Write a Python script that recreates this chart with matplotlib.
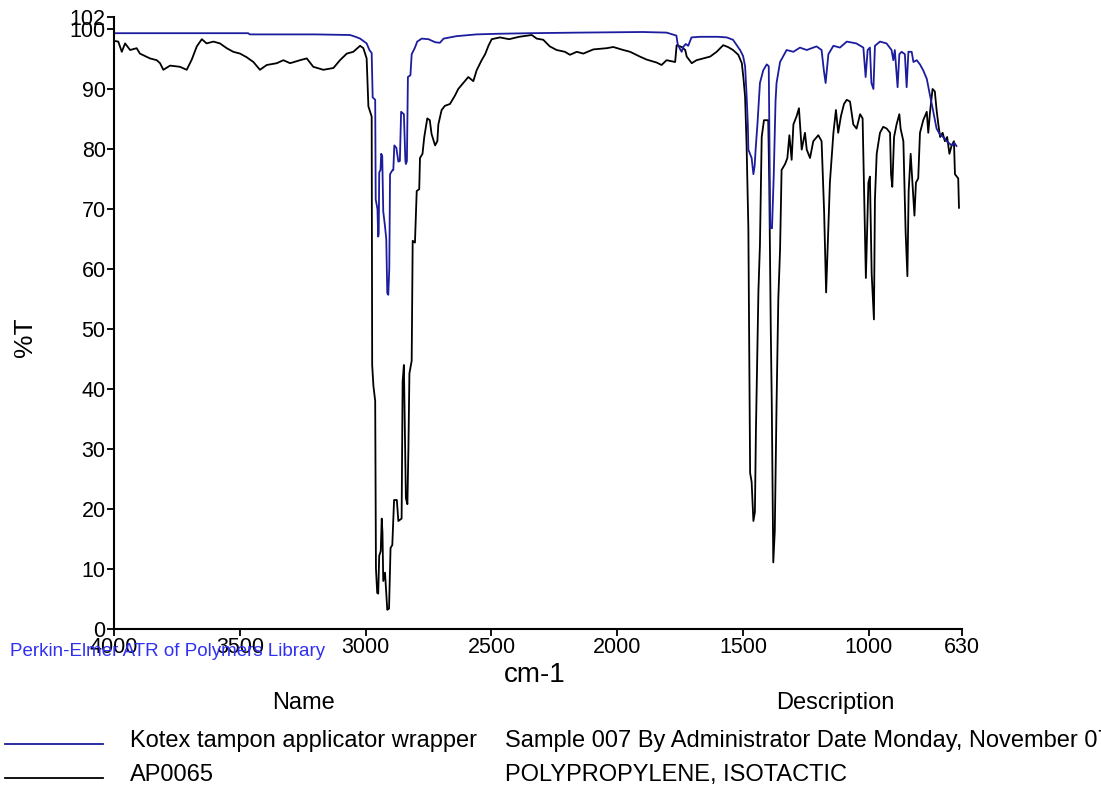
import matplotlib
matplotlib.use("Agg")
import matplotlib.pyplot as plt
from matplotlib.lines import Line2D

plt.rcParams['font.family'] = ['Liberation Sans', 'DejaVu Sans']

# Kotex tampon applicator wrapper (wavenumber cm-1, %T)
kotex_wn = [4000, 3600, 3467, 3460, 3200, 3062, 3040, 3022, 3009, 2996, 2985, 2976,
            2972, 2962, 2960, 2953, 2950, 2948, 2946, 2941, 2938, 2934, 2930, 2923,
            2918, 2914, 2910, 2906, 2903, 2893, 2890, 2886, 2878, 2870, 2864, 2859,
            2848, 2842, 2840, 2836, 2832, 2822, 2817, 2804, 2795, 2777, 2750, 2724,
            2705, 2690, 2640, 2560, 2480, 2350, 2150, 1900, 1804, 1765, 1760, 1750,
            1744, 1738, 1728, 1718, 1705, 1671, 1600, 1565, 1540, 1512, 1500, 1492,
            1486, 1481, 1479, 1466, 1459, 1454, 1450, 1443, 1433, 1420, 1406, 1398,
            1394, 1392, 1385, 1378, 1371, 1367, 1353, 1327, 1300, 1274, 1247, 1208,
            1188, 1179, 1172, 1161, 1141, 1115, 1088, 1050, 1022, 1013, 1005, 996,
            990, 982, 976, 956, 930, 910, 903, 897, 886, 879, 870, 857, 850, 843,
            830, 823, 810, 797, 784, 770, 757, 744, 731, 717, 705, 691, 671, 660, 652]
kotex_t = [99.3, 99.3, 99.3, 99.1, 99.1, 99.0, 98.7, 98.4, 98.0, 97.6, 96.5, 96.0,
           88.6, 88.2, 71.6, 70.0, 65.4, 66.0, 76.1, 76.5, 79.2, 78.8, 69.6, 67.1,
           65.0, 56.0, 55.7, 60.0, 75.8, 76.5, 76.5, 80.6, 80.2, 77.9, 78.0, 86.2,
           85.8, 78.0, 77.5, 78.0, 92.0, 92.3, 95.8, 96.9, 97.9, 98.4, 98.3, 97.8,
           97.7, 98.4, 98.8, 99.1, 99.2, 99.3, 99.4, 99.5, 99.4, 98.9, 97.5, 96.6,
           96.2, 97.0, 97.5, 97.2, 98.6, 98.7, 98.7, 98.6, 98.2, 96.5, 95.5, 93.8,
           88.9, 84.0, 79.9, 78.5, 75.8, 77.2, 80.0, 84.1, 91.0, 93.1, 94.1, 93.8,
           75.0, 66.8, 66.8, 75.8, 88.0, 91.0, 94.5, 96.5, 96.2, 96.9, 96.5, 97.1,
           96.5, 93.1, 91.0, 95.8, 97.2, 96.9, 97.9, 97.6, 96.9, 92.0, 96.5, 96.9,
           91.0, 90.0, 97.2, 97.9, 97.6, 96.5, 94.8, 96.5, 90.3, 95.8, 96.2, 95.8,
           90.3, 96.2, 96.2, 94.5, 94.8, 94.1, 93.1, 91.7, 88.9, 86.2, 83.4, 82.4,
           82.0, 81.3, 80.6, 81.0, 80.5]

# AP0065 polypropylene, isotactic (wavenumber cm-1, %T)
ap_wn = [3997, 3983, 3969, 3956, 3936, 3910, 3897, 3857, 3830, 3817, 3804, 3777,
         3738, 3711, 3691, 3671, 3651, 3632, 3605, 3579, 3552, 3526, 3499, 3473,
         3446, 3420, 3393, 3353, 3327, 3300, 3261, 3234, 3208, 3168, 3128, 3102,
         3075, 3049, 3022, 3009, 2996, 2989, 2976, 2974, 2969, 2962, 2959, 2954,
         2950, 2946, 2940, 2936, 2933, 2930, 2923, 2918, 2914, 2907, 2901, 2894,
         2887, 2876, 2870, 2857, 2853, 2848, 2843, 2840, 2834, 2830, 2826, 2817,
         2813, 2804, 2797, 2787, 2784, 2774, 2767, 2755, 2745, 2738, 2724, 2715,
         2711, 2698, 2685, 2665, 2645, 2632, 2612, 2592, 2572, 2559, 2539, 2525,
         2512, 2499, 2466, 2430, 2390, 2340, 2320, 2294, 2268, 2241, 2208, 2188,
         2161, 2135, 2095, 2042, 2016, 1976, 1949, 1910, 1883, 1843, 1824, 1804,
         1770, 1764, 1744, 1730, 1724, 1704, 1685, 1658, 1631, 1605, 1579, 1560,
         1540, 1519, 1505, 1499, 1492, 1486, 1479, 1472, 1466, 1459, 1453, 1449,
         1439, 1433, 1426, 1417, 1400, 1396, 1390, 1386, 1380, 1374, 1367, 1360,
         1353, 1347, 1333, 1324, 1316, 1307, 1300, 1287, 1278, 1267, 1254, 1247,
         1234, 1221, 1201, 1188, 1178, 1170, 1164, 1155, 1141, 1131, 1122, 1111,
         1099, 1088, 1075, 1062, 1049, 1035, 1025, 1018, 1012, 1002, 996, 989,
         980, 976, 969, 956, 943, 929, 916, 912, 907, 900, 890, 879, 874, 863,
         854, 847, 842, 834, 826, 819, 813, 804, 797, 784, 770, 764, 757, 747,
         738, 731, 724, 717, 707, 698, 689, 680, 671, 662, 658, 645, 642]
ap_t = [98.0, 97.9, 96.2, 97.6, 96.5, 96.8, 95.9, 95.1, 94.8, 94.3, 93.2, 93.9,
        93.7, 93.2, 94.9, 97.1, 98.3, 97.6, 97.9, 97.6, 96.8, 96.2, 95.9, 95.3,
        94.5, 93.2, 94.0, 94.3, 94.8, 94.3, 94.8, 95.1, 93.7, 93.2, 93.5, 94.8,
        95.9, 96.2, 97.2, 96.8, 95.1, 87.1, 85.4, 44.0, 40.5, 38.0, 10.1, 6.0,
        5.9, 12.2, 13.0, 18.4, 16.0, 8.0, 9.4, 6.0, 3.2, 3.4, 13.5, 14.0,
        21.5, 21.5, 18.0, 18.4, 41.2, 44.0, 30.0, 21.8, 20.8, 30.0, 42.6, 44.7,
        64.7, 64.4, 73.0, 73.3, 78.5, 79.2, 82.0, 85.1, 84.8, 82.5, 80.6, 81.3,
        84.1, 86.5, 87.2, 87.5, 88.9, 90.0, 91.0, 92.0, 91.3, 93.1, 94.8, 95.8,
        97.2, 98.3, 98.6, 98.3, 98.7, 99.0, 98.4, 98.2, 97.1, 96.5, 96.2, 95.7,
        96.2, 95.9, 96.6, 96.8, 97.0, 96.5, 96.2, 95.4, 94.9, 94.4, 94.0, 94.8,
        94.5, 97.3, 97.0, 96.5, 95.4, 94.3, 94.8, 95.1, 95.4, 96.2, 97.3, 97.0,
        96.5, 95.7, 94.3, 92.0, 88.7, 80.6, 66.8, 26.0, 24.5, 18.0, 19.5, 32.9,
        56.4, 64.0, 82.0, 84.8, 84.8, 74.4, 50.2, 37.7, 11.1, 16.3, 37.4, 55.0,
        63.3, 76.5, 77.5, 78.5, 82.3, 78.2, 84.1, 85.5, 86.8, 79.9, 82.7, 79.9,
        78.5, 81.3, 82.3, 81.3, 69.6, 56.1, 63.3, 74.4, 82.7, 86.5, 82.7, 85.5,
        87.5, 88.2, 87.9, 84.1, 83.4, 85.8, 85.1, 71.0, 58.5, 74.4, 75.4, 59.2,
        51.6, 71.6, 79.2, 82.7, 83.7, 83.4, 82.7, 75.8, 73.7, 82.0, 84.1, 85.8, 83.4, 81.3,
        66.1, 58.8, 73.0, 79.2, 73.7, 68.9, 74.4, 75.1, 82.7, 84.8, 86.2, 82.7, 86.2, 90.0,
        89.6, 86.5, 84.1, 82.0, 82.7, 81.3, 82.0, 79.2, 80.6, 81.3, 75.8, 75.1, 70.2]

x_ticks = [4000, 3500, 3000, 2500, 2000, 1500, 1000, 630]
y_ticks = [0, 10, 20, 30, 40, 50, 60, 70, 80, 90, 100, 102]
names = ['Kotex tampon applicator wrapper', 'AP0065']
descriptions = ['Sample 007 By Administrator Date Monday, November 07, 2011',
                'POLYPROPYLENE, ISOTACTIC']
colors = ['#1c1c9e', 'black']

fig = plt.figure(figsize=(11.01, 7.87), dpi=100)
ax = fig.add_axes([114/1101, 1-629/787, (962-114)/1101, (629-17)/787])

ax.plot(ap_wn, ap_t, color=colors[1], lw=1.3)
ax.plot(kotex_wn, kotex_t, color=colors[0], lw=1.3)

ax.set_xlim(4000, 630)
ax.set_ylim(0, 102)
ax.set_xticks(x_ticks)
ax.set_yticks(y_ticks)
ax.tick_params(labelsize=15.5, length=5, width=1.3, pad=1)
ax.spines['top'].set_visible(False)
ax.spines['right'].set_visible(False)
ax.spines['left'].set_linewidth(1.5)
ax.spines['bottom'].set_linewidth(1.5)

fig.text(25/1101, 1-337/787, '%T', rotation=90, fontsize=19, ha='center', va='center')
fig.text(535/1101, 1-675/787, 'cm-1', fontsize=20, ha='center', va='center')
fig.text(10/1101, 1-651/787, 'Perkin-Elmer ATR of Polymers Library', fontsize=13.5,
         color='#3030f0', ha='left', va='center')

# table below the plot
fig.text(303/1101, 1-703/787, 'Name', fontsize=17, ha='center', va='center')
fig.text(835/1101, 1-703/787, 'Description', fontsize=17, ha='center', va='center')
row_y = [741, 775]
for i in range(2):
    yy = 1 - row_y[i]/787
    fig.add_artist(Line2D([5/1101, 103/1101], [yy-3/787, yy-3/787], color=colors[i],
                          lw=1.3, transform=fig.transFigure))
    fig.text(130/1101, yy, names[i], fontsize=17, ha='left', va='center')
    fig.text(505/1101, yy, descriptions[i], fontsize=17, ha='left', va='center')

plt.savefig('out.png', dpi=100)
